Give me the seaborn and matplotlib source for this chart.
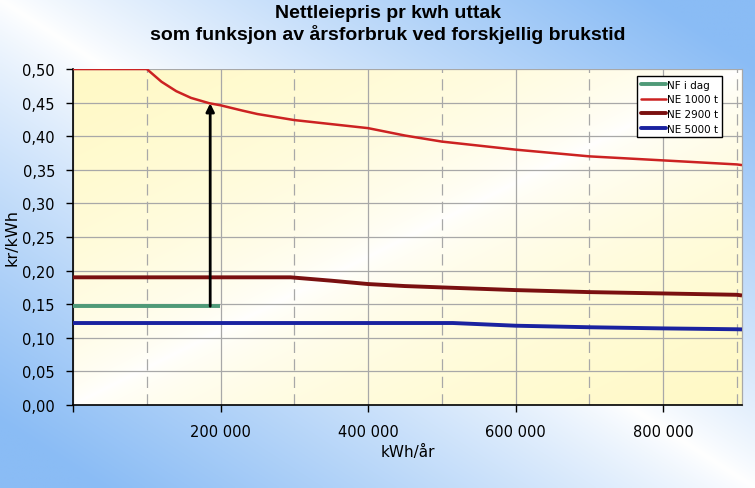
import numpy as np
import pandas as pd
import matplotlib
matplotlib.use("Agg")
import matplotlib.pyplot as plt
import seaborn as sns
from matplotlib.lines import Line2D
from matplotlib.ticker import FixedLocator

# ---------------- data ----------------
title_line1 = "Nettleiepris pr kwh uttak"
title_line2 = "som funksjon av årsforbruk ved forskjellig brukstid"
x_label = "kWh/år"
y_label = "kr/kWh"

series_names = ["NF i dag", "NE 1000 t", "NE 2900 t", "NE 5000 t"]

nf_x = [0, 199000]
nf_y = [0.147, 0.147]

ne1000_x = [0, 100000, 120000, 140000, 160000, 185000, 200000, 230000, 250000,
            300000, 350000, 400000, 450000, 500000, 600000, 700000, 800000,
            900000, 907000]
ne1000_y = [0.500, 0.500, 0.481, 0.467, 0.457, 0.449, 0.446, 0.438, 0.433,
            0.424, 0.418, 0.412, 0.401, 0.392, 0.380, 0.370, 0.364,
            0.358, 0.357]

ne2900_x = [0, 295000, 350000, 400000, 450000, 500000, 600000, 700000, 800000,
            900000, 907000]
ne2900_y = [0.190, 0.190, 0.185, 0.180, 0.177, 0.175, 0.171, 0.168, 0.166,
            0.164, 0.163]

ne5000_x = [0, 515000, 600000, 700000, 800000, 900000, 907000]
ne5000_y = [0.122, 0.122, 0.118, 0.1157, 0.114, 0.1127, 0.1125]

arrow_x = 186000
arrow_from = 0.147
arrow_to = 0.449

x_major_ticks = [0, 200000, 400000, 600000, 800000]
x_major_labels = ["", "200 000", "400 000", "600 000", "800 000"]
x_minor_ticks = [100000, 300000, 500000, 700000, 900000]
x_max = 907000

y_ticks = [0.00, 0.05, 0.10, 0.15, 0.20, 0.25, 0.30, 0.35, 0.40, 0.45, 0.50]
y_tick_labels = ["0,00", "0,05", "0,10", "0,15", "0,20", "0,25",
                 "0,30", "0,35", "0,40", "0,45", "0,50"]

# ---------------- styling ----------------
colors = ["#4f9a78", "#cc2222", "#7a1010", "#1a22a0"]
widths = [2.8, 1.8, 2.8, 2.8]

sns.set_theme(style="white")
plt.rcParams["font.family"] = ["DejaVu Sans"]
plt.rcParams["text.color"] = "black"

df = pd.concat([
    pd.DataFrame({"x": nf_x, "y": nf_y, "serie": series_names[0]}),
    pd.DataFrame({"x": ne1000_x, "y": ne1000_y, "serie": series_names[1]}),
    pd.DataFrame({"x": ne2900_x, "y": ne2900_y, "serie": series_names[2]}),
    pd.DataFrame({"x": ne5000_x, "y": ne5000_y, "serie": series_names[3]}),
], ignore_index=True)

W, H = 755, 489
fig = plt.figure(figsize=(W / 100, H / 100), dpi=100)

# figure background gradient (blue at bottom-left / top-right, white on anti-diagonal)
bg = fig.add_axes([0, 0, 1, 1], zorder=-10)
bg.axis("off")
gx = np.linspace(0, 1, 300)
gy = np.linspace(1, 0, 200)
GX, GY = np.meshgrid(gx, gy)
t = np.clip(np.abs(GX + GY - 1.0) * 1.15, 0, 1) ** 0.85
blue = np.array([138, 188, 245]) / 255.0
white = np.array([1.0, 1.0, 1.0])
img = white[None, None, :] * (1 - t[..., None]) + blue[None, None, :] * t[..., None]
bg.imshow(img, extent=[0, 1, 0, 1], aspect="auto", interpolation="bilinear")
bg.set_xlim(0, 1)
bg.set_ylim(0, 1)

# main axes
ax = fig.add_axes([73 / W, 1 - 406 / H, 669 / W, 336 / H])
px = np.linspace(0, 1, 300)
py = np.linspace(1, 0, 200)
PX, PY = np.meshgrid(px, py)
s = np.clip(np.abs(PX - PY), 0, 1) ** 0.6
yellow = np.array([255, 249, 196]) / 255.0
pimg = white[None, None, :] * (1 - s[..., None]) + yellow[None, None, :] * s[..., None]
ax.imshow(pimg, extent=[0, x_max, 0, 0.5], aspect="auto", interpolation="bilinear", zorder=0)

sns.lineplot(data=df, x="x", y="y", hue="serie", hue_order=series_names,
             palette=dict(zip(series_names, colors)), estimator=None, sort=False,
             legend=False, ax=ax, linewidth=2.5, zorder=3)
for line, lw in zip(ax.lines, widths):
    line.set_linewidth(lw)
    line.set_solid_capstyle("butt")

ax.annotate("", xy=(arrow_x, arrow_to), xytext=(arrow_x, arrow_from),
            arrowprops=dict(arrowstyle="-|>", color="black", lw=2,
                            mutation_scale=12, shrinkA=0, shrinkB=0), zorder=4)

ax.set_xlim(0, x_max)
ax.set_ylim(0, 0.5)
ax.xaxis.set_major_locator(FixedLocator(x_major_ticks))
ax.set_xticklabels(x_major_labels)
ax.xaxis.set_minor_locator(FixedLocator(x_minor_ticks))
ax.set_yticks(y_ticks)
ax.set_yticklabels(y_tick_labels)

ax.set_axisbelow("line")
ax.grid(which="major", axis="both", color="#a8a8a8", linewidth=0.9, linestyle="-")
ax.grid(which="minor", axis="x", color="#a8a8a8", linewidth=0.9, linestyle=(0, (9, 5)))

ax.tick_params(axis="both", which="major", direction="out", length=5, width=1,
               color="black", labelsize=10.5, labelcolor="black",
               bottom=True, left=True)
ax.tick_params(axis="x", which="major", pad=9)
ax.tick_params(axis="y", which="major", pad=8)
ax.tick_params(which="minor", length=0)

for side in ["left", "bottom"]:
    ax.spines[side].set_color("black")
    ax.spines[side].set_linewidth(1.2)
ax.spines["top"].set_visible(False)
ax.spines["right"].set_color("#a8a8a8")
ax.spines["right"].set_linewidth(0.9)

ax.set_xlabel(x_label, fontsize=11, color="black", labelpad=3)
ax.set_ylabel(y_label, fontsize=11.5, color="black", labelpad=2)

handles = [Line2D([0], [0], color=c, lw=lw) for c, lw in zip(colors, widths)]
leg = ax.legend(handles, series_names, loc="upper right",
                bbox_to_anchor=(0.970, 0.979), fontsize=7.5, frameon=True,
                fancybox=False, edgecolor="black", facecolor="white",
                framealpha=1, handlelength=2.4, handletextpad=0.1,
                labelspacing=0.45, borderpad=0.35, borderaxespad=0,
                labelcolor="black")
leg.get_frame().set_linewidth(1.0)

fig.text(388 / W, 1 - 13 / H, title_line1, ha="center", va="center",
         fontsize=14, fontweight="bold", color="black", family=["Liberation Sans"])
fig.text(388 / W, 1 - 35 / H, title_line2, ha="center", va="center",
         fontsize=14, fontweight="bold", color="black", family=["Liberation Sans"])

fig.savefig("out.png", dpi=100)
